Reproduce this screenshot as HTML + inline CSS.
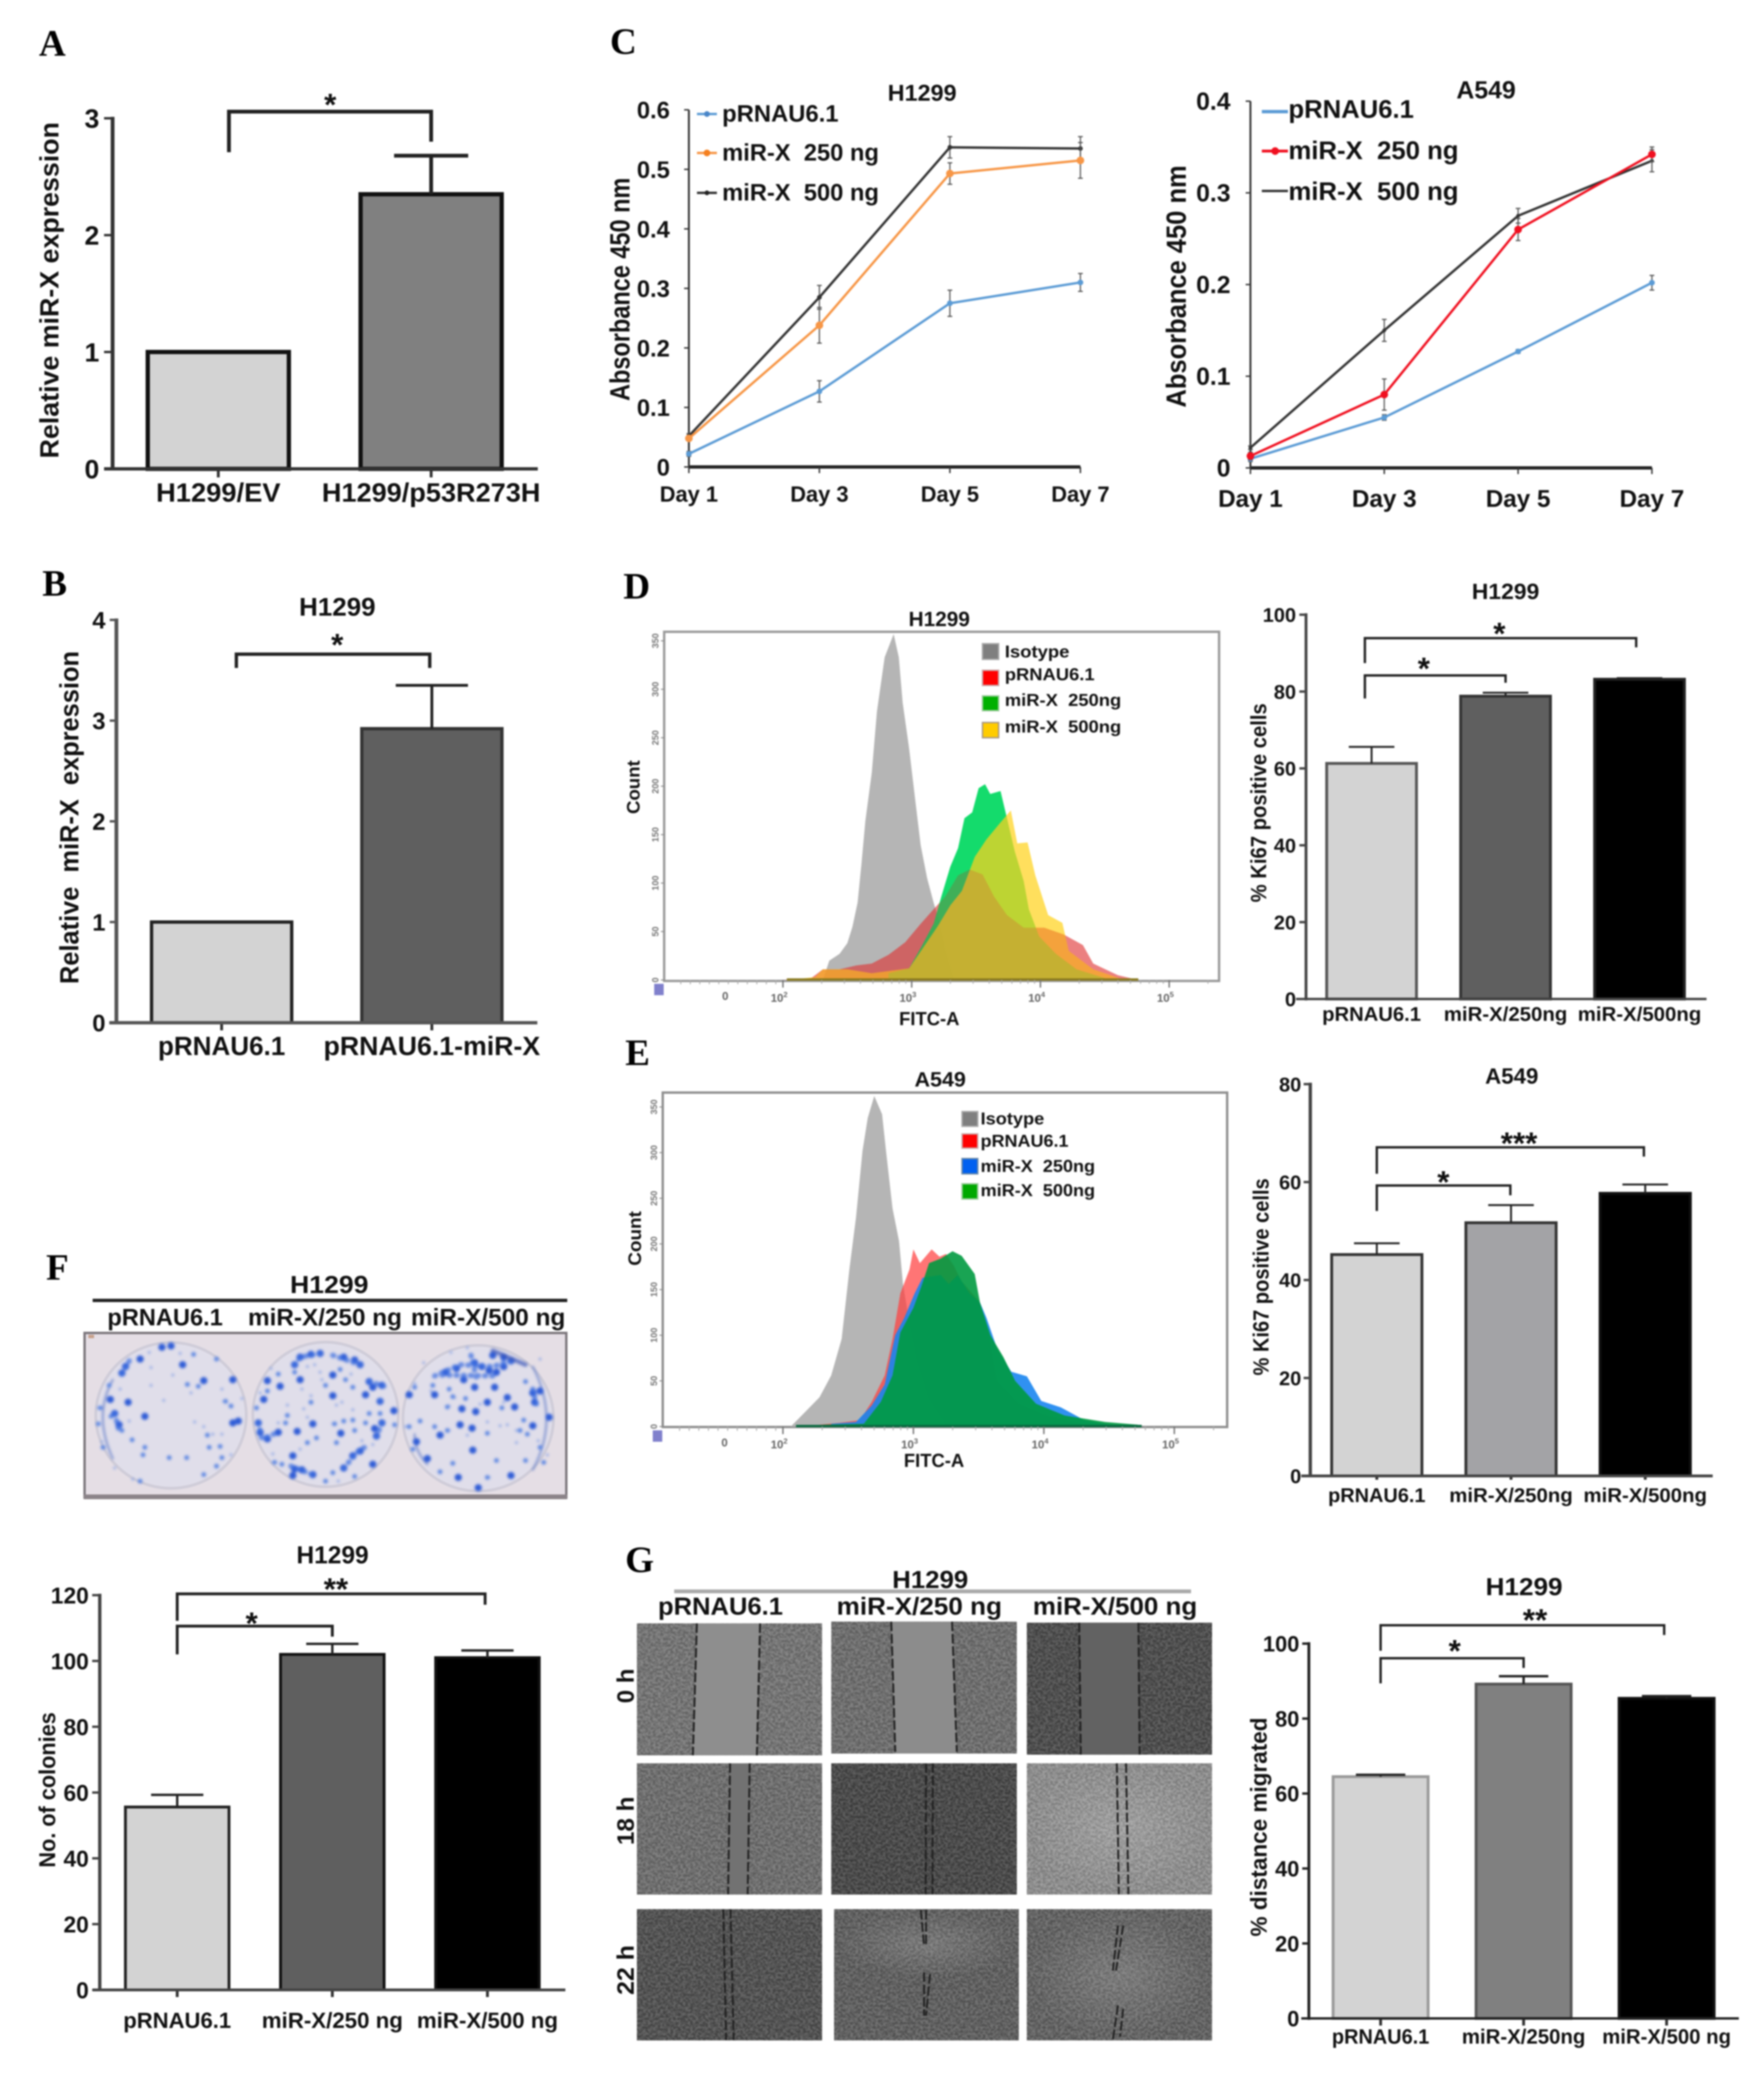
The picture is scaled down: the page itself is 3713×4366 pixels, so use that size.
<!DOCTYPE html>
<html lang="en">
<head>
<meta charset="utf-8">
<title>miR-X multi-panel figure</title>
<style>
html,body{margin:0;padding:0;background:#fff}
svg{display:block}
text{font-family:"Liberation Sans",sans-serif;font-weight:700;fill:#111;white-space:pre}
.ltr{font-family:"Liberation Serif",serif;font-size:78px;fill:#000}
.dot{fill:none;stroke-linecap:round;stroke-linejoin:round;vector-effect:non-scaling-stroke}
.dash{fill:none;stroke:#222;stroke-width:4;stroke-dasharray:20 6;vector-effect:non-scaling-stroke}
</style>
</head>
<body>
<svg id="figure" xmlns="http://www.w3.org/2000/svg" width="3713" height="4366" viewBox="0 0 3713 4366">
<defs>
<filter id="soft" filterUnits="userSpaceOnUse" x="0" y="0" width="3713" height="4366" color-interpolation-filters="sRGB"><feGaussianBlur stdDeviation="1.6"/></filter>
<filter id="noise" x="0" y="0" width="100%" height="100%" color-interpolation-filters="sRGB"><feTurbulence type="fractalNoise" baseFrequency="0.16" numOctaves="2" seed="7"/><feColorMatrix type="matrix" values="3.4 0 0 0 -1.2 3.4 0 0 0 -1.2 3.4 0 0 0 -1.2 0 0 0 0 0.15"/><feGaussianBlur stdDeviation="1"/></filter>
<filter id="blob" x="-5%" y="-5%" width="110%" height="110%" color-interpolation-filters="sRGB"><feGaussianBlur stdDeviation="3.5 6.5"/></filter>
<radialGradient id="glow"><stop offset="0" stop-color="#fff" stop-opacity=".16"/><stop offset="1" stop-color="#fff" stop-opacity="0"/></radialGradient>
</defs>
<rect width="3713" height="4366" fill="#fff"/>
<g id="root" filter="url(#soft)">

<!-- panel letters -->
<text class="ltr" x="82" y="117">A</text>
<text class="ltr" x="89" y="1254">B</text>
<text class="ltr" x="1284" y="113">C</text>
<text class="ltr" x="1312" y="1260">D</text>
<text class="ltr" x="1316" y="2242">E</text>
<text class="ltr" x="97" y="2694">F</text>
<text class="ltr" x="1316" y="3309">G</text>

<!-- A -->
<g id="chartA">
<text transform="translate(123,611) rotate(-90)" text-anchor="middle" font-size="56" textLength="708" lengthAdjust="spacingAndGlyphs">Relative miR-X expression</text>
</g>

<!-- B -->
<g id="chartB">
<text x="710" y="1296" text-anchor="middle" font-size="54" textLength="161" lengthAdjust="spacingAndGlyphs">H1299</text>
<text transform="translate(165,1721) rotate(-90)" text-anchor="middle" font-size="56" textLength="701" lengthAdjust="spacingAndGlyphs">Relative  miR-X  expression</text>
</g>

<!-- C left -->
<g id="chartC1">
<text x="1941" y="212" text-anchor="middle" font-size="48" textLength="145" lengthAdjust="spacingAndGlyphs">H1299</text>
<text transform="translate(1325,609) rotate(-90)" text-anchor="middle" font-size="58" textLength="470" lengthAdjust="spacingAndGlyphs">Absorbance 450 nm</text>
<g>
<line x1="1467" x2="1509" y1="240" y2="240" stroke="#5b9bd5" stroke-width="5"/>
<circle cx="1488" cy="240" r="6" fill="#4a86c8"/>
<text x="1520" y="256" font-size="50" textLength="245" lengthAdjust="spacingAndGlyphs">pRNAU6.1</text>
<line x1="1467" x2="1509" y1="322" y2="322" stroke="#f79646" stroke-width="5"/>
<circle cx="1488" cy="322" r="7" fill="#f58020"/>
<text x="1520" y="338" font-size="50" textLength="330" lengthAdjust="spacingAndGlyphs">miR-X  250 ng</text>
<line x1="1467" x2="1509" y1="406" y2="406" stroke="#333" stroke-width="5"/>
<circle cx="1488" cy="406" r="5" fill="#222"/>
<text x="1520" y="422" font-size="50" textLength="330" lengthAdjust="spacingAndGlyphs">miR-X  500 ng</text>
</g>
</g>

<!-- C right -->
<g id="chartC2">
<text x="3128" y="207" text-anchor="middle" font-size="52" textLength="125" lengthAdjust="spacingAndGlyphs">A549</text>
<text transform="translate(2496,603) rotate(-90)" text-anchor="middle" font-size="58" textLength="510" lengthAdjust="spacingAndGlyphs">Absorbance 450 nm</text>
<g>
<line x1="2656" x2="2711" y1="235" y2="235" stroke="#5b9bd5" stroke-width="7"/>
<text x="2712" y="248" font-size="54" textLength="264" lengthAdjust="spacingAndGlyphs">pRNAU6.1</text>
<line x1="2656" x2="2711" y1="318" y2="318" stroke="#f01020" stroke-width="6"/>
<circle cx="2684" cy="318" r="8" fill="#f01020"/>
<text x="2712" y="335" font-size="54" textLength="358" lengthAdjust="spacingAndGlyphs">miR-X  250 ng</text>
<line x1="2656" x2="2711" y1="402" y2="402" stroke="#333" stroke-width="5"/>
<text x="2712" y="421" font-size="54" textLength="358" lengthAdjust="spacingAndGlyphs">miR-X  500 ng</text>
</g>
</g>

<!-- D flow -->
<g id="flowD">
<text x="1977" y="1318" text-anchor="middle" font-size="44" textLength="129" lengthAdjust="spacingAndGlyphs">H1299</text>
<rect x="1398" y="1330" width="1168" height="735" fill="none" stroke="#9a9a9a" stroke-width="5"/>
<text x="1956" y="2158" text-anchor="middle" font-size="40" textLength="127" lengthAdjust="spacingAndGlyphs">FITC-A</text>
<text transform="translate(1346,1657) rotate(-90)" text-anchor="middle" font-size="38" textLength="113" lengthAdjust="spacingAndGlyphs">Count</text>
</g>
<g>
<rect x="2068" y="1355" width="34" height="33" fill="#7f7f7f" stroke="#aaa" stroke-width="3"/>
<text x="2115" y="1384" font-size="36" textLength="136" lengthAdjust="spacingAndGlyphs">Isotype</text>
<rect x="2068" y="1411" width="34" height="32" fill="#f00" stroke="#caa" stroke-width="3"/>
<text x="2115" y="1432" font-size="36" textLength="189" lengthAdjust="spacingAndGlyphs">pRNAU6.1</text>
<rect x="2068" y="1465" width="34" height="31" fill="#00b000" stroke="#9c9" stroke-width="3"/>
<text x="2115" y="1486" font-size="36" textLength="245" lengthAdjust="spacingAndGlyphs">miR-X  250ng</text>
<rect x="2068" y="1521" width="34" height="32" fill="#ffcc00" stroke="#a98" stroke-width="3"/>
<text x="2115" y="1542" font-size="36" textLength="245" lengthAdjust="spacingAndGlyphs">miR-X  500ng</text>
</g>

<!-- E flow -->
<g id="flowE">
<text x="1979" y="2287" text-anchor="middle" font-size="44" textLength="108" lengthAdjust="spacingAndGlyphs">A549</text>
<rect x="1395" y="2300" width="1188" height="704" fill="none" stroke="#8f8f8f" stroke-width="5"/>
<text x="1966" y="3088" text-anchor="middle" font-size="40" textLength="127" lengthAdjust="spacingAndGlyphs">FITC-A</text>
<text transform="translate(1349,2607) rotate(-90)" text-anchor="middle" font-size="38" textLength="115" lengthAdjust="spacingAndGlyphs">Count</text>
</g>
<g>
<rect x="2025" y="2340" width="33" height="31" fill="#7f7f7f" stroke="#aaa" stroke-width="3"/>
<text x="2064" y="2367" font-size="36" textLength="134" lengthAdjust="spacingAndGlyphs">Isotype</text>
<rect x="2025" y="2387" width="33" height="30" fill="#f00" stroke="#caa" stroke-width="3"/>
<text x="2064" y="2414" font-size="36" textLength="185" lengthAdjust="spacingAndGlyphs">pRNAU6.1</text>
<rect x="2025" y="2439" width="33" height="32" fill="#0060f0" stroke="#68a" stroke-width="3"/>
<text x="2064" y="2467" font-size="36" textLength="241" lengthAdjust="spacingAndGlyphs">miR-X  250ng</text>
<rect x="2025" y="2492" width="33" height="32" fill="#00a800" stroke="#9c9" stroke-width="3"/>
<text x="2064" y="2518" font-size="36" textLength="241" lengthAdjust="spacingAndGlyphs">miR-X  500ng</text>
</g>

<!-- D bars -->
<g id="chartD">
<text x="3169" y="1261" text-anchor="middle" font-size="46" textLength="142" lengthAdjust="spacingAndGlyphs">H1299</text>
<text transform="translate(2665,1690) rotate(-90)" text-anchor="middle" font-size="46" textLength="419" lengthAdjust="spacingAndGlyphs">% Ki67 positive cells</text>
</g>
<!-- E bars -->
<g id="chartE">
<text x="3182" y="2281" text-anchor="middle" font-size="46" textLength="112" lengthAdjust="spacingAndGlyphs">A549</text>
<text transform="translate(2670,2688) rotate(-90)" text-anchor="middle" font-size="46" textLength="415" lengthAdjust="spacingAndGlyphs">% Ki67 positive cells</text>
</g>

<!-- F plate -->
<g>
<text x="693" y="2722" text-anchor="middle" font-size="52" textLength="165" lengthAdjust="spacingAndGlyphs">H1299</text>
<rect x="195" y="2734" width="999" height="7" fill="#222"/>
<text x="226" y="2790" font-size="50" textLength="243" lengthAdjust="spacingAndGlyphs">pRNAU6.1</text>
<text x="522" y="2790" font-size="50" textLength="324" lengthAdjust="spacingAndGlyphs">miR-X/250 ng</text>
<text x="865" y="2790" font-size="50" textLength="325" lengthAdjust="spacingAndGlyphs">miR-X/500 ng</text>
</g>
<g>
<rect x="178" y="2806" width="1014" height="346" fill="#e5dee5" stroke="#7c767c" stroke-width="5"/>
<rect x="176" y="3146" width="1018" height="10" fill="#8c8489"/>
<rect x="186" y="2810" width="12" height="7" fill="#c7a08a"/>
<g transform="translate(50,2600) scale(.7653,.3954)">
<ellipse cx="405" cy="960" rx="207" ry="388" fill="#e0deea" stroke="#d0cdd9" stroke-width="6" style="vector-effect:non-scaling-stroke"/>
<ellipse cx="830" cy="955" rx="200" ry="385" fill="#e0deea" stroke="#d0cdd9" stroke-width="6" style="vector-effect:non-scaling-stroke"/>
<ellipse cx="1250" cy="975" rx="207" ry="388" fill="#e0deea" stroke="#d0cdd9" stroke-width="6" style="vector-effect:non-scaling-stroke"/>
<g filter="url(#blob)">
<path class="dot" stroke="#7f93d0" stroke-width="4" d="M245 770Q190 960 245 1190M1400 700Q1475 980 1400 1250M1075 1060Q1075 1150 1110 1220"/>
<path class="dot" stroke="#93aae6" stroke-width="6" d="M350 705h.1M410 745h.1M350 800h.1M460 840h.1M545 820h.1M550 885h.1M385 880h.1M470 995h.1M495 1020h.1M520 1060h.1M290 990h.1M265 820h.1M345 625h.1M430 630h.1M205 1010h.1M205 920h.1M600 870h.1M215 1100h.1M250 1240h.1M300 1300h.1M570 1170h.1M545 1060h.1M780 700h.1M800 690h.1M870 720h.1M900 740h.1M815 730h.1M820 770h.1M700 740h.1M680 710h.1M765 820h.1M790 855h.1M790 890h.1M725 905h.1M770 925h.1M860 905h.1M875 890h.1M905 930h.1M780 970h.1M725 960h.1M700 1000h.1M880 990h.1M905 985h.1M850 1005h.1M910 1040h.1M760 1140h.1M805 1085h.1M860 1105h.1M930 1095h.1M960 1115h.1M685 1165h.1M685 1210h.1M830 1310h.1M865 1310h.1M910 1285h.1M850 1265h.1M1020 1010h.1M650 840h.1M640 920h.1M1075 790h.1M1120 830h.1M1170 910h.1M1185 865h.1M1215 870h.1M1255 900h.1M1315 915h.1M1130 1020h.1M1090 990h.1M1170 1040h.1M1275 995h.1M1310 1015h.1M1330 1010h.1M1355 1040h.1M1375 985h.1M1275 1055h.1M1220 1065h.1M1180 1215h.1M1145 1265h.1M1280 1290h.1M1355 1105h.1M1415 1095h.1M1320 890h.1M1420 660h.1M1100 680h.1M1175 625h.1M1220 600h.1M1050 1020h.1M1440 1170h.1"/>
<path class="dot" stroke="#5f88e2" stroke-width="10" d="M450 795h.1M480 805h.1M570 910h.1M530 660h.1M467 635h.1M540 1125h.1M510 1130h.1M328 1170h.1M333 1130h.1M400 1185h.1M448 1185h.1M545 1185h.1M495 1275h.1M320 1310h.1M298 1090h.1M235 800h.1M210 920h.1M205 1005h.1M240 965h.1M270 1040h.1M218 1130h.1M530 1230h.1M505 1065h.1M555 885h.1M745 730h.1M700 740h.1M670 830h.1M640 920h.1M725 960h.1M790 890h.1M830 800h.1M870 715h.1M885 770h.1M905 810h.1M720 1000h.1M855 1005h.1M905 985h.1M880 990h.1M940 1000h.1M780 1105h.1M805 1080h.1M860 1105h.1M910 1040h.1M950 950h.1M690 1210h.1M710 1220h.1M850 1265h.1M910 1285h.1M830 1310h.1M980 950h.1M1020 1010h.1M1170 820h.1M1180 860h.1M1215 870h.1M1165 915h.1M1075 810h.1M1125 800h.1M1315 920h.1M1375 985h.1M1365 1040h.1M1165 1040h.1M1130 1020h.1M1275 1055h.1M1385 1060h.1M1090 990h.1M1060 1020h.1M1180 1215h.1M1145 1260h.1M1275 1290h.1M1430 1210h.1M1380 1200h.1M1420 1130h.1M1380 780h.1M1070 1140h.1M1300 1200h.1"/>
<path class="dot" stroke="#2f5cd6" stroke-width="15" d="M380 597h.1M405 590h.1M437 690h.1M495 775h.1M238 875h.1M287 890h.1M250 950h.1M262 1010h.1M333 965h.1M575 1000h.1M590 990h.1M280 700h.1M270 735h.1M320 660h.1M575 770h.1M815 630h.1M790 635h.1M760 650h.1M745 690h.1M880 650h.1M910 665h.1M925 690h.1M705 805h.1M850 745h.1M760 770h.1M850 855h.1M940 850h.1M670 775h.1M660 875h.1M950 780h.1M985 800h.1M960 810h.1M980 885h.1M1018 935h.1M795 1005h.1M645 1000h.1M700 1050h.1M670 1085h.1M650 1050h.1M752 1045h.1M872 1055h.1M965 1030h.1M985 1000h.1M970 1070h.1M925 1150h.1M905 1175h.1M880 1240h.1M960 1220h.1M740 1175h.1M745 1245h.1M765 1250h.1M795 1275h.1M740 1280h.1M1290 640h.1M1340 670h.1M1240 680h.1M1190 710h.1M1160 730h.1M1280 720h.1M1300 730h.1M1210 770h.1M1240 810h.1M1295 810h.1M1330 865h.1M1275 890h.1M1350 915h.1M1205 925h.1M1243 940h.1M1400 840h.1M1420 830h.1M1405 890h.1M1400 1015h.1M1200 1010h.1M1233 1028h.1M1145 1065h.1M1235 1145h.1M1080 1100h.1M1110 1190h.1M1250 1345h.1M1195 1290h.1M1340 1280h.1M1445 970h.1M1060 850h.1M1130 850h.1M1320 650h.1M1260 700h.1M1320 700h.1"/>
<path class="dot" stroke="#3f70e0" stroke-opacity=".75" stroke-width="11" stroke-dasharray="2 13" d="M745 690L760 650L815 630M850 640L925 690M645 1000L655 1085L700 1050M985 1000L965 1100M880 1240L925 1140L945 1125M735 1230L800 1280M950 780L1000 810M980 880L985 910M1130 750L1200 690L1290 700L1340 670M1230 640L1245 760M1150 745L1300 750M270 740L290 670M250 950L262 1040M1400 820L1410 900"/>
<path class="dot" stroke="#3a56b8" stroke-opacity=".7" stroke-width="9" d="M1290 615L1380 690"/>
</g>
</g>
</g>

<!-- F bars -->
<g id="chartF">
<text x="700" y="3291" text-anchor="middle" font-size="52" textLength="152" lengthAdjust="spacingAndGlyphs">H1299</text>
<text transform="translate(116,3768) rotate(-90)" text-anchor="middle" font-size="48" textLength="327" lengthAdjust="spacingAndGlyphs">No. of colonies</text>
</g>

<!-- G scratch photos -->
<g>
<text x="1958" y="3343" text-anchor="middle" font-size="52" textLength="160" lengthAdjust="spacingAndGlyphs">H1299</text>
<rect x="1419" y="3346" width="1088" height="8" fill="#aaa"/>
<text x="1385" y="3399" font-size="52" textLength="263" lengthAdjust="spacingAndGlyphs">pRNAU6.1</text>
<text x="1761" y="3399" font-size="52" textLength="348" lengthAdjust="spacingAndGlyphs">miR-X/250 ng</text>
<text x="2174" y="3399" font-size="52" textLength="346" lengthAdjust="spacingAndGlyphs">miR-X/500 ng</text>
<text transform="translate(1334,3549) rotate(-90)" text-anchor="middle" font-size="50" textLength="73" lengthAdjust="spacingAndGlyphs">0 h</text>
<text transform="translate(1334,3833) rotate(-90)" text-anchor="middle" font-size="50" textLength="102" lengthAdjust="spacingAndGlyphs">18 h</text>
<text transform="translate(1334,4147) rotate(-90)" text-anchor="middle" font-size="50" textLength="105" lengthAdjust="spacingAndGlyphs">22 h</text>
</g>
<g transform="translate(1280,3220) scale(.8418,.731)">
<g><rect x="72" y="270" width="463" height="380" fill="#747474"/><rect x="72" y="270" width="463" height="380" filter="url(#noise)"/><polygon points="222,270 380,270 372,650 212,650" fill="#8e8e8e"/><path class="dash" d="M222 270L212 650M380 270L372 650"/></g>
<g><rect x="558" y="265" width="464" height="380" fill="#6d6d6d"/><rect x="558" y="265" width="464" height="380" filter="url(#noise)"/><polygon points="708,265 860,265 872,645 718,645" fill="#8c8c8c"/><path class="dash" d="M708 265L718 640M860 265L872 640"/></g>
<g><rect x="1047" y="268" width="463" height="380" fill="#484848"/><rect x="1047" y="268" width="463" height="380" filter="url(#noise)"/><polygon points="1178,268 1326,268 1329,648 1182,648" fill="#626262"/><path class="dash" d="M1178 268L1182 648M1326 268L1329 648"/></g>
<g><rect x="72" y="673" width="463" height="378" fill="#6d6d6d"/><rect x="72" y="673" width="463" height="378" filter="url(#noise)"/><polygon points="305,673 354,673 349,1050 300,1050" fill="#727272"/><path class="dash" d="M305 673L300 1050M354 673L349 1050"/></g>
<g><rect x="558" y="673" width="464" height="378" fill="#434343"/><rect x="558" y="673" width="464" height="378" filter="url(#noise)"/><path class="dash" d="M795 673L794 1050M812 673L811 1050"/></g>
<g><rect x="1047" y="673" width="463" height="378" fill="#909090"/><rect x="1047" y="673" width="463" height="378" filter="url(#noise)"/><rect x="1047" y="673" width="463" height="378" fill="url(#glow)"/><path class="dash" d="M1272 673L1277 1050M1295 673L1301 1050"/></g>
<g><rect x="72" y="1093" width="463" height="378" fill="#4d4d4d"/><rect x="72" y="1093" width="463" height="378" filter="url(#noise)"/><path class="dash" d="M288 1093L295 1470M306 1093L314 1470"/></g>
<g><rect x="565" y="1093" width="462" height="378" fill="#5c5c5c"/><rect x="565" y="1093" width="462" height="378" filter="url(#noise)"/><rect x="565" y="1093" width="462" height="200" fill="url(#glow)"/><path class="dash" d="M782 1095L790 1200M795 1095L795 1200M790 1275L790 1400M805 1280L795 1400"/></g>
<g><rect x="1047" y="1093" width="463" height="378" fill="#606060"/><rect x="1047" y="1093" width="463" height="378" filter="url(#noise)"/><rect x="1047" y="1093" width="463" height="378" fill="url(#glow)"/><path class="dash" d="M1275 1140L1262 1270M1288 1140L1270 1270M1275 1370L1262 1470M1288 1380L1280 1460"/></g>
</g>

<!-- G bars -->
<g id="chartG">
<text x="3208" y="3358" text-anchor="middle" font-size="52" textLength="162" lengthAdjust="spacingAndGlyphs">H1299</text>
<text transform="translate(2666,3846) rotate(-90)" text-anchor="middle" font-size="48" textLength="461" lengthAdjust="spacingAndGlyphs">% distance migrated</text>
</g>
</g>
</svg>

<script>
// ---------- bar chart data ----------
const catsA = ['H1299/EV', 'H1299/p53R273H'];
const valuesA = [1, 2.35];
const errTopA = [1, 2.68];
const ticksA = ['0', '1', '2', '3'];

const catsB = ['pRNAU6.1', 'pRNAU6.1-miR-X'];
const valuesB = [1, 2.92];
const errTopB = [1, 3.35];
const ticksB = ['0', '1', '2', '3', '4'];

const catsD = ['pRNAU6.1', 'miR-X/250ng', 'miR-X/500ng'];
const valuesD = [61.3, 78.8, 83.2];
const errTopD = [65.6, 79.7, 83.5];
const ticksD = ['0', '20', '40', '60', '80', '100'];

const catsE = ['pRNAU6.1', 'miR-X/250ng', 'miR-X/500ng'];
const valuesE = [45.2, 51.7, 57.7];
const errTopE = [47.5, 55.3, 59.5];
const ticksE = ['0', '20', '40', '60', '80'];

const catsF = ['pRNAU6.1', 'miR-X/250 ng', 'miR-X/500 ng'];
const valuesF = [55.6, 102, 101];
const errTopF = [59.3, 105.2, 103.2];
const ticksF = ['0', '20', '40', '60', '80', '100', '120'];

const catsG = ['pRNAU6.1', 'miR-X/250ng', 'miR-X/500 ng'];
const valuesG = [64.5, 89.2, 85.4];
const errTopG = [65, 91.3, 86];
const ticksG = ['0', '20', '40', '60', '80', '100'];

// significance brackets, in category index / axis value units:
// [fromIndex, toIndex, topValue, leftEndValue, rightEndValue, label, labelIndex, labelValue]
const sigA = [[0.05, 1, 3.057, 2.71, 2.80, '*', 0.526, 3.146]];
const sigB = [[0.07, 0.99, 3.66, 3.523, 3.523, '*', 0.55, 3.788]];
const sigD = [[-0.05, 1, 84.2, 78.2, 82.3, '*', 0.39, 86.9], [-0.05, 1.975, 93.9, 87.4, 91.5, '*', 0.954, 96]];
const sigE = [[0, 0.995, 59.3, 54.1, 57.3, '*', 0.496, 60.7], [0, 1.99, 67.1, 61.7, 65.2, '***', 1.06, 68.6]];
const sigF = [[0, 1, 110.6, 102, 107.4, '*', 0.48, 112.5], [0, 1.985, 120.4, 112.2, 117.1, '**', 1.023, 122.9]];
const sigG = [[0, 1, 96.1, 89.4, 93.5, '*', 0.518, 99], [0, 1.983, 104.9, 98.1, 102.3, '**', 1.08, 107.2]];

// ---------- line chart data ----------
const days = ['Day 1', 'Day 3', 'Day 5', 'Day 7'];
const c1Prnau = [0.022, 0.127, 0.275, 0.31];
const c1Mir250 = [0.048, 0.238, 0.493, 0.515];
const c1Mir500 = [0.052, 0.285, 0.537, 0.535];
const c1PrnauErr = [0.004, 0.018, 0.022, 0.015];
const c1Mir250Err = [0.004, 0.03, 0.018, 0.03];
const c1Mir500Err = [0.004, 0.02, 0.018, 0.02];
const c1Ticks = ['0', '0.1', '0.2', '0.3', '0.4', '0.5', '0.6'];

const c2Prnau = [0.01, 0.055, 0.127, 0.202];
const c2Mir250 = [0.013, 0.08, 0.26, 0.342];
const c2Mir500 = [0.022, 0.15, 0.275, 0.335];
const c2PrnauErr = [0.003, 0.003, 0.002, 0.008];
const c2Mir250Err = [0.004, 0.017, 0.012, 0.008];
const c2Mir500Err = [0.002, 0.012, 0.008, 0.012];
const c2Ticks = ['0', '0.1', '0.2', '0.3', '0.4'];

// ---------- flow histogram data (log10 FITC-A, count) ----------
const flowCountTicks = ['0', '50', '100', '150', '200', '250', '300', '350'];
const flowDecades = ['2', '3', '4', '5'];

const dIsotypeLog = [2.31, 2.36, 2.44, 2.50, 2.54, 2.58, 2.61, 2.64, 2.69, 2.73, 2.79, 2.86, 2.90, 2.93, 2.98, 3.03, 3.07, 3.12, 3.17, 3.22, 3.26, 3.33];
const dIsotypeCount = [0, 20, 27, 38, 55, 80, 120, 164, 214, 277, 333, 357, 333, 286, 239, 183, 139, 105, 80, 58, 33, 0];
const dPrnauLog = [2, 2.22, 2.31, 2.44, 2.57, 2.69, 2.82, 2.95, 3.07, 3.17, 3.26, 3.36, 3.45, 3.55, 3.64, 3.74, 3.87, 4.03, 4.18, 4.33, 4.41, 4.6, 4.76];
const dPrnauCount = [0, 2, 11, 11, 15, 17, 26, 39, 58, 73, 86, 108, 114, 109, 86, 67, 54, 54, 47, 36, 17, 5, 0];
const dMir250Log = [2.82, 2.98, 3.07, 3.17, 3.23, 3.30, 3.36, 3.41, 3.47, 3.52, 3.57, 3.61, 3.69, 3.74, 3.80, 3.87, 3.91, 3.99, 4.12, 4.28, 4.5];
const dMir250Count = [7, 12, 33, 58, 86, 117, 136, 167, 173, 198, 202, 192, 195, 167, 133, 102, 73, 45, 27, 11, 2];
const dMir500Log = [2.03, 2.25, 2.31, 2.50, 2.69, 2.98, 3.20, 3.30, 3.39, 3.49, 3.58, 3.68, 3.77, 3.82, 3.90, 3.96, 4.06, 4.17, 4.22, 4.41, 4.61];
const dMir500Count = [0, 3, 11, 11, 7, 12, 55, 77, 92, 127, 145, 161, 175, 141, 142, 108, 67, 59, 30, 11, 2];

const eIsotypeLog = [2.06, 2.15, 2.28, 2.37, 2.45, 2.51, 2.56, 2.61, 2.65, 2.70, 2.76, 2.79, 2.84, 2.89, 2.92, 2.97, 3.03, 3.12, 3.25, 3.31];
const eIsotypeCount = [0, 13, 32, 56, 96, 173, 229, 302, 338, 362, 342, 302, 239, 203, 156, 113, 70, 30, 2, 0];
const ePrnauLog = [2.21, 2.43, 2.59, 2.68, 2.78, 2.84, 2.90, 2.97, 3.00, 3.05, 3.14, 3.20, 3.25, 3.31, 3.37, 3.45, 3.51, 3.56, 3.64, 3.81, 4.00, 4.31, 4.41];
const ePrnauCount = [1, 4, 7, 27, 56, 96, 146, 172, 194, 179, 194, 186, 189, 176, 159, 146, 136, 113, 50, 25, 13, 2, 0];
const eMir250Log = [2.37, 2.56, 2.68, 2.78, 2.86, 2.93, 3.01, 3.07, 3.21, 3.27, 3.34, 3.43, 3.51, 3.56, 3.64, 3.75, 3.87, 3.98, 4.13, 4.31, 4.47, 4.63];
const eMir250Count = [3, 5, 23, 46, 100, 119, 146, 163, 166, 156, 166, 146, 136, 119, 86, 60, 55, 28, 21, 7, 3, 0];
const eMir500Log = [2.31, 2.62, 2.75, 2.84, 2.90, 3.00, 3.06, 3.12, 3.21, 3.30, 3.37, 3.47, 3.51, 3.59, 3.69, 3.78, 3.94, 4.16, 4.47, 4.72, 4.75];
const eMir500Count = [2, 3, 27, 56, 103, 130, 153, 179, 184, 192, 187, 167, 136, 100, 76, 50, 25, 12, 5, 2, 0];

// ---------- drawing helpers ----------
const NS = 'http://www.w3.org/2000/svg';
function mk(parent, tag, attrs, content) {
  const el = document.createElementNS(NS, tag);
  for (const k in attrs) el.setAttribute(k, attrs[k]);
  if (content !== undefined) el.textContent = content;
  parent.appendChild(el);
  return el;
}

function drawBars(cfg) {
  const root = document.getElementById(cfg.id);
  const x = i => cfg.x0 + i * cfg.step;
  const y = v => cfg.y0 - v * cfg.pxPerUnit;
  cfg.values.forEach((v, i) => {
    const bar = mk(root, 'rect', {
      x: x(i) - cfg.barW / 2, y: y(v), width: cfg.barW, height: cfg.y0 - y(v),
      fill: cfg.fills[i], stroke: cfg.strokes[i], 'stroke-width': cfg.barStroke
    });
    
    
    if (cfg.errTop[i] > v) {
      const err = mk(root, 'path', {
        d: 'M' + x(i) + ' ' + y(v) + 'V' + y(cfg.errTop[i]) + 'M' + (x(i) - cfg.capHalf) + ' ' + y(cfg.errTop[i]) + 'H' + (x(i) + cfg.capHalf),
        stroke: '#222', 'stroke-width': cfg.errStroke, fill: 'none'
      });
      
      
    }
    const tick = mk(root, 'line', { x1: x(i), x2: x(i), y1: cfg.y0, y2: cfg.y0 + cfg.xTick, stroke: '#333', 'stroke-width': 6 });
    
    
    const label = mk(root, 'text', {
      x: x(i), y: cfg.labelY, 'text-anchor': 'middle', 'font-size': cfg.labelSize,
      textLength: cfg.labelLens[i], lengthAdjust: 'spacingAndGlyphs'
    }, cfg.cats[i]);
    
    
  });
  const yAxis = mk(root, 'line', { x1: cfg.axisX, x2: cfg.axisX, y1: y(Number(cfg.ticks[cfg.ticks.length - 1])) - 3, y2: cfg.y0 + 3, stroke: cfg.axisColor, 'stroke-width': cfg.axisW });
  
  
  const xAxis = mk(root, 'line', { x1: cfg.xAxisFrom, x2: cfg.xAxisTo, y1: cfg.y0, y2: cfg.y0, stroke: cfg.axisColor, 'stroke-width': cfg.axisW - 1 });
  
  
  cfg.ticks.forEach(t => {
    const tick = mk(root, 'line', { x1: cfg.axisX - cfg.yTick, x2: cfg.axisX, y1: y(Number(t)), y2: y(Number(t)), stroke: cfg.axisColor, 'stroke-width': 5 });
    
    
    const label = mk(root, 'text', { x: cfg.tickRight, y: y(Number(t)) + cfg.tickSize * 0.36, 'text-anchor': 'end', 'font-size': cfg.tickSize }, t);
    
    
  });
  cfg.sig.forEach(s => {
    const br = mk(root, 'path', {
      d: 'M' + x(s[0]) + ' ' + y(s[3]) + 'V' + y(s[2]) + 'H' + x(s[1]) + 'V' + y(s[4]),
      fill: 'none', stroke: '#222', 'stroke-width': cfg.sigStroke
    });
    
    
    const star = mk(root, 'text', { x: x(s[6]), y: y(s[7]) + 30, 'text-anchor': 'middle', 'font-size': 66 }, s[5]);
    
    
  });
}

function drawLines(cfg) {
  const root = document.getElementById(cfg.id);
  const x = i => cfg.x0 + i * cfg.step;
  const y = v => cfg.y0 - v * cfg.pxPerUnit;
  const xAxis = mk(root, 'line', { x1: cfg.x0, x2: x(days.length - 1), y1: cfg.y0, y2: cfg.y0, stroke: '#222', 'stroke-width': 7 });
  
  
  const yAxis = mk(root, 'line', { x1: cfg.x0, x2: cfg.x0, y1: y(Number(cfg.ticks[cfg.ticks.length - 1])), y2: cfg.y0, stroke: '#333', 'stroke-width': 4 });
  
  
  cfg.ticks.forEach(t => {
    const tick = mk(root, 'line', { x1: cfg.x0 - 10, x2: cfg.x0, y1: y(Number(t)), y2: y(Number(t)), stroke: '#333', 'stroke-width': 3 });
    
    
    const label = mk(root, 'text', { x: cfg.tickRight, y: y(Number(t)) + 18, 'text-anchor': 'end', 'font-size': cfg.tickSize }, t);
    
    
  });
  days.forEach((d, i) => {
    const tick = mk(root, 'line', { x1: x(i), x2: x(i), y1: cfg.y0, y2: cfg.y0 + 13, stroke: '#333', 'stroke-width': 3 });
    
    
    const label = mk(root, 'text', { x: x(i), y: cfg.labelY, 'text-anchor': 'middle', 'font-size': cfg.labelSize }, d);
    
    
  });
  cfg.series.forEach(s => {
    s.values.forEach((v, i) => {
      const err = mk(root, 'path', {
        d: 'M' + x(i) + ' ' + y(v - s.errs[i]) + 'V' + y(v + s.errs[i]) +
           'M' + (x(i) - 5) + ' ' + y(v + s.errs[i]) + 'h10M' + (x(i) - 5) + ' ' + y(v - s.errs[i]) + 'h10',
        stroke: '#555', 'stroke-width': 2.5, fill: 'none'
      });
      
      
    });
    const pts = s.values.map((v, i) => x(i) + ',' + y(v)).join(' ');
    const line = mk(root, 'polyline', { points: pts, fill: 'none', stroke: s.color, 'stroke-width': 5 });
    
    
    s.values.forEach((v, i) => {
      const dot = mk(root, 'circle', { cx: x(i), cy: y(v), r: s.r, fill: s.color });
      
      
    });
  });
}

function drawFlow(cfg) {
  const root = document.getElementById(cfg.id);
  const x = l => cfg.log2X + (l - 2) * cfg.decadePx;
  const y = c => cfg.y0 - c * cfg.pxPerCount;
  cfg.layers.forEach(s => {
    const d = 'M' + x(s.log[0]) + ' ' + cfg.y0 + s.log.map((l, i) => 'L' + x(l) + ' ' + y(s.count[i])).join('') +
      'L' + x(s.log[s.log.length - 1]) + ' ' + cfg.y0 + 'Z';
    const area = mk(root, 'path', { d: d, fill: s.fill, 'fill-opacity': s.opacity });
    
    
  });
  const base = mk(root, 'line', { x1: x(cfg.baseFrom), x2: x(cfg.baseTo), y1: cfg.y0 - 1, y2: cfg.y0 - 1, stroke: cfg.baseColor, 'stroke-width': 5 });
  
  
  flowCountTicks.forEach(t => {
    const tick = mk(root, 'line', { x1: cfg.frameX - 7, x2: cfg.frameX, y1: y(Number(t)), y2: y(Number(t)), stroke: '#888', 'stroke-width': 2 });
    
    
    const label = mk(root, 'text', { transform: 'translate(' + (cfg.frameX - 12) + ',' + y(Number(t)) + ') rotate(-90)', 'text-anchor': 'middle', 'font-size': 19, style: 'fill:#777' }, t);
    
    
  });
  flowDecades.forEach(dec => {
    const p = Number(dec);
    const major = mk(root, 'line', { x1: x(p), x2: x(p), y1: cfg.y0, y2: cfg.y0 + 16, stroke: '#777', 'stroke-width': 3 });
    
    
    const label = mk(root, 'text', { x: x(p) - 8, y: cfg.y0 + 46, 'text-anchor': 'middle', 'font-size': 24, style: 'fill:#666' }, '10');
    
    
    const sup = mk(label, 'tspan', { dy: -10, 'font-size': 16 }, dec);
    
    
    [2, 3, 4, 5, 6, 7, 8, 9].forEach(m => {
      if (x(p + Math.log10(m)) < cfg.frameRight) {
        const minor = mk(root, 'line', { x1: x(p + Math.log10(m)), x2: x(p + Math.log10(m)), y1: cfg.y0, y2: cfg.y0 + 8, stroke: '#aaa', 'stroke-width': 2 });
        
        
      }
    });
  });
  [0.14, 0.22, 0.3, 0.38, 0.46, 0.54, 0.62, 0.7, 0.78, 0.86, 0.94].forEach(f => {
    const lin = mk(root, 'line', { x1: cfg.frameX + f * (x(2) - cfg.frameX), x2: cfg.frameX + f * (x(2) - cfg.frameX), y1: cfg.y0, y2: cfg.y0 + 9, stroke: '#aaa', 'stroke-width': 2 });
    
    
  });
  const zero = mk(root, 'text', { x: cfg.frameX + 0.53 * (x(2) - cfg.frameX) - 4, y: cfg.y0 + 42, 'text-anchor': 'middle', 'font-size': 24, style: 'fill:#666' }, '0');
  
  
  const corner = mk(root, 'rect', { x: cfg.frameX - 21, y: cfg.y0 + 8, width: 20, height: 24, fill: '#8080cc' });
  
  
}

// ---------- draw ----------
drawBars({ id: 'chartA', cats: catsA, values: valuesA, errTop: errTopA, ticks: ticksA, sig: sigA,
  x0: 459.5, step: 448, barW: 297, y0: 987, pxPerUnit: 246, axisX: 237, xAxisFrom: 219, xAxisTo: 1132,
  fills: ['#d3d3d3', '#808080'], strokes: ['#111', '#111'], barStroke: 9, axisW: 8, axisColor: '#333',
  capHalf: 78, errStroke: 8, sigStroke: 8, xTick: 18, yTick: 18, tickRight: 209, tickSize: 56,
  labelY: 1056, labelSize: 56, labelLens: [262, 460] });

drawBars({ id: 'chartB', cats: catsB, values: valuesB, errTop: errTopB, ticks: ticksB, sig: sigB,
  x0: 466.5, step: 442.5, barW: 295, y0: 2153, pxPerUnit: 212, axisX: 245, xAxisFrom: 230, xAxisTo: 1131,
  fills: ['#d3d3d3', '#5f5f5f'], strokes: ['#222', '#333'], barStroke: 7, axisW: 8, axisColor: '#555',
  capHalf: 76, errStroke: 6, sigStroke: 7, xTick: 16, yTick: 14, tickRight: 222, tickSize: 50,
  labelY: 2221, labelSize: 56, labelLens: [268, 456] });

drawBars({ id: 'chartD', cats: catsD, values: valuesD, errTop: errTopD, ticks: ticksD, sig: sigD,
  x0: 2887, step: 282, barW: 189, y0: 2103, pxPerUnit: 8.09, axisX: 2749, xAxisFrom: 2728, xAxisTo: 3592,
  fills: ['#d3d3d3', '#5f5f5f', '#000'], strokes: ['#555', '#333', '#222'], barStroke: 6, axisW: 6, axisColor: '#444',
  capHalf: 48, errStroke: 4, sigStroke: 5, xTick: 0, yTick: 14, tickRight: 2728, tickSize: 42,
  labelY: 2149, labelSize: 42, labelLens: [208, 260, 260] });

drawBars({ id: 'chartE', cats: catsE, values: valuesE, errTop: errTopE, ticks: ticksE, sig: sigE,
  x0: 2898, step: 282.5, barW: 190, y0: 3107, pxPerUnit: 10.31, axisX: 2758, xAxisFrom: 2739, xAxisTo: 3605,
  fills: ['#d3d3d3', '#a3a3a6', '#000'], strokes: ['#333', '#333', '#111'], barStroke: 6, axisW: 7, axisColor: '#444',
  capHalf: 48, errStroke: 4, sigStroke: 5, xTick: 8, yTick: 14, tickRight: 2739, tickSize: 42,
  labelY: 3162, labelSize: 42, labelLens: [205, 260, 260] });

drawBars({ id: 'chartF', cats: catsF, values: valuesF, errTop: errTopF, ticks: ticksF, sig: sigF,
  x0: 373, step: 326.5, barW: 218, y0: 4189, pxPerUnit: 6.925, axisX: 210, xAxisFrom: 195, xAxisTo: 1190,
  fills: ['#d3d3d3', '#5f5f5f', '#000'], strokes: ['#222', '#111', '#111'], barStroke: 6, axisW: 7, axisColor: '#444',
  capHalf: 55, errStroke: 5, sigStroke: 6, xTick: 15, yTick: 16, tickRight: 187, tickSize: 48,
  labelY: 4269, labelSize: 46, labelLens: [227, 297, 297] });

drawBars({ id: 'chartG', cats: catsG, values: valuesG, errTop: errTopG, ticks: ticksG, sig: sigG,
  x0: 2906, step: 301, barW: 200, y0: 4249, pxPerUnit: 7.89, axisX: 2755, xAxisFrom: 2739, xAxisTo: 3660,
  fills: ['#d3d3d3', '#808080', '#000'], strokes: ['#999', '#555', '#111'], barStroke: 6, axisW: 6, axisColor: '#222',
  capHalf: 52, errStroke: 5, sigStroke: 5, xTick: 15, yTick: 14, tickRight: 2735, tickSize: 46,
  labelY: 4302, labelSize: 44, labelLens: [205, 260, 271] });

drawLines({ id: 'chartC1', x0: 1450, step: 274.7, y0: 983, pxPerUnit: 1253, ticks: c1Ticks, tickRight: 1410, tickSize: 50,
  labelY: 1056, labelSize: 46,
  series: [
    { name: 'prnau', values: c1Prnau, errs: c1PrnauErr, color: '#5b9bd5', r: 6 },
    { name: 'mir-x-500', values: c1Mir500, errs: c1Mir500Err, color: '#333', r: 5 },
    { name: 'mir-x-250', values: c1Mir250, errs: c1Mir250Err, color: '#f79646', r: 8 }
  ] });

drawLines({ id: 'chartC2', x0: 2632, step: 281.7, y0: 985, pxPerUnit: 1930, ticks: c2Ticks, tickRight: 2590, tickSize: 52,
  labelY: 1067, labelSize: 51,
  series: [
    { name: 'prnau', values: c2Prnau, errs: c2PrnauErr, color: '#5b9bd5', r: 6 },
    { name: 'mir-x-500', values: c2Mir500, errs: c2Mir500Err, color: '#333', r: 4 },
    { name: 'mir-x-250', values: c2Mir250, errs: c2Mir250Err, color: '#f01020', r: 8 }
  ] });

drawFlow({ id: 'flowD', log2X: 1648, decadePx: 271, y0: 2063, pxPerCount: 2.04, frameX: 1398, frameRight: 2566, baseFrom: 2.03, baseTo: 4.76, baseColor: '#8a7a20',
  layers: [
    { name: 'isotype', log: dIsotypeLog, count: dIsotypeCount, fill: '#b5b5b5', opacity: 1 },
    { name: 'prnau', log: dPrnauLog, count: dPrnauCount, fill: '#e03030', opacity: 0.5 },
    { name: 'mir-x-250', log: dMir250Log, count: dMir250Count, fill: '#00d860', opacity: 0.92 },
    { name: 'mir-x-500', log: dMir500Log, count: dMir500Count, fill: '#ffd21e', opacity: 0.72 },
    { name: 'prnau-overlay', log: dPrnauLog, count: dPrnauCount, fill: '#e03030', opacity: 0.22 }
  ] });

drawFlow({ id: 'flowE', log2X: 1648, decadePx: 274.6, y0: 3003, pxPerCount: 1.922, frameX: 1395, frameRight: 2583, baseFrom: 2.1, baseTo: 4.75, baseColor: '#0a6a40',
  layers: [
    { name: 'isotype', log: eIsotypeLog, count: eIsotypeCount, fill: '#b5b5b5', opacity: 1 },
    { name: 'prnau', log: ePrnauLog, count: ePrnauCount, fill: '#ff4040', opacity: 0.72 },
    { name: 'mir-x-250', log: eMir250Log, count: eMir250Count, fill: '#1a85f0', opacity: 0.9 },
    { name: 'mir-x-500', log: eMir500Log, count: eMir500Count, fill: '#009a40', opacity: 0.9 }
  ] });
</script>
</body>
</html>
